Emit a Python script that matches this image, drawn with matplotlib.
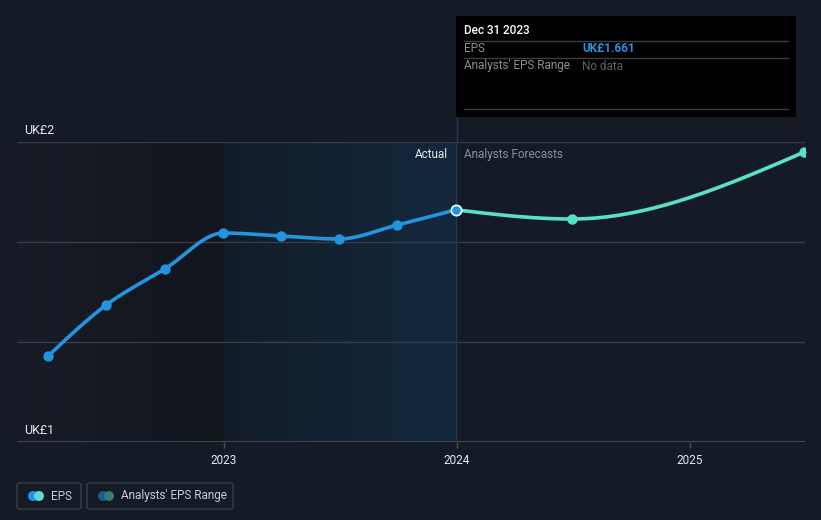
import numpy as np
import pandas as pd
import matplotlib
matplotlib.use("Agg")
import matplotlib.pyplot as plt
import matplotlib.dates as mdates
from matplotlib.patches import FancyBboxPatch, Rectangle, Ellipse
from matplotlib.colors import LinearSegmentedColormap

plt.rcParams["font.family"] = ["Roboto", "DejaVu Sans"]

# data
actual_dates = ["2022-03-31", "2022-06-30", "2022-09-30", "2022-12-31",
                "2023-03-31", "2023-06-30", "2023-09-30", "2023-12-31"]
actual_eps = [0.93, 1.185, 1.365, 1.545, 1.53, 1.515, 1.585, 1.661]
forecast_dates = ["2023-12-31", "2024-06-30", "2025-06-30"]
forecast_eps = [1.661, 1.615, 1.95]
year_ticks = ["2023-01-01", "2024-01-01", "2025-01-01"]
year_labels = ["2023", "2024", "2025"]

BG = "#151b26"
GRID = "#363c46"
BLUE = "#2394df"
TEAL = "#58e0c8"
W, H = 821, 520


def px(x, y):
    """pixel coords (top-left origin) -> figure fraction"""
    return x / W, 1 - y / H


def monotone(xs, ys, n=40):
    # d3 curveMonotoneX style interpolation
    xs = np.asarray(xs, float)
    ys = np.asarray(ys, float)
    h = np.diff(xs)
    s = np.diff(ys) / h
    t = np.zeros(len(xs))
    for i in range(1, len(xs) - 1):
        p = (s[i - 1] * h[i] + s[i] * h[i - 1]) / (h[i - 1] + h[i])
        t[i] = (np.sign(s[i - 1]) + np.sign(s[i])) * min(abs(s[i - 1]), abs(s[i]), 0.5 * abs(p))
    if len(xs) > 2:
        t[0] = (3 * s[0] - t[1]) / 2
        t[-1] = (3 * s[-1] - t[-2]) / 2
    else:
        t[:] = s[0]
    ox, oy = [], []
    for i in range(len(xs) - 1):
        u = np.linspace(0, 1, n)
        h00 = 2 * u**3 - 3 * u**2 + 1
        h10 = u**3 - 2 * u**2 + u
        h01 = -2 * u**3 + 3 * u**2
        h11 = u**3 - u**2
        ox.append(xs[i] + u * h[i])
        oy.append(h00 * ys[i] + h10 * h[i] * t[i] + h01 * ys[i + 1] + h11 * h[i] * t[i + 1])
    return np.concatenate(ox), np.concatenate(oy)


ax_x = mdates.date2num(pd.to_datetime(actual_dates))
fc_x = mdates.date2num(pd.to_datetime(forecast_dates))
tick_x = mdates.date2num(pd.to_datetime(year_ticks))

fig = plt.figure(figsize=(W / 100, H / 100), dpi=100, facecolor=BG)
ax = fig.add_axes([17 / W, 78 / H, 788 / W, 300 / H])
ax.set_facecolor(BG)

x0 = mdates.date2num(pd.Timestamp("2022-02-10"))
x1 = mdates.date2num(pd.Timestamp("2025-07-01"))

# shaded past / actual regions
grad = np.linspace(0, 1, 256).reshape(1, -1)
cm_past = LinearSegmentedColormap.from_list("past", ["#171c26", "#11151c"])
cm_act = LinearSegmentedColormap.from_list("act", ["#131d29", "#13283d"])
ax.imshow(grad, cmap=cm_past, extent=[x0, tick_x[0], 0.5, 2.0], aspect="auto", zorder=0)
ax.imshow(grad, cmap=cm_act, extent=[tick_x[0], ax_x[-1], 0.5, 2.0], aspect="auto", zorder=0)
ax.set_xlim(x0, x1)
ax.set_ylim(0.5, 2.0)

for v in [1.0, 1.5, 2.0]:
    ax.axhline(v, color=GRID, lw=1, zorder=1)
ax.axhline(0.5, color="#4a505a", lw=1.2, zorder=1)

for sp in ax.spines.values():
    sp.set_visible(False)
ax.set_xticks(tick_x)
ax.set_xticklabels(year_labels)
ax.set_yticks([])
ax.tick_params(axis="x", colors="#4a505a", length=4, width=1, pad=5,
               labelcolor="#e6e8eb", labelsize=8.5)

# vertical "today" line
ax.plot([ax_x[-1], ax_x[-1]], [0.5, 2.0], color="#1f3a52", lw=1, zorder=2)
fig.add_artist(plt.Line2D([457 / W, 457 / W], [1 - 142 / H, 1 - 117 / H], color="#1f3a52", lw=1))

# lines
cx, cy = monotone(ax_x, actual_eps)
ax.plot(cx, cy, color=BLUE, lw=2.6, zorder=4, solid_capstyle="round")
ax.scatter(ax_x[:-1], actual_eps[:-1], s=42, color=BLUE, zorder=5, clip_on=False)
fx, fy = monotone(fc_x, forecast_eps)
ax.plot(fx, fy, color=TEAL, lw=2.6, zorder=4, clip_on=False)
ax.scatter(fc_x[1:], forecast_eps[1:], s=42, color=TEAL, zorder=5, clip_on=True)
ax.scatter([ax_x[-1]], [actual_eps[-1]], s=55, color=BLUE, edgecolor="white", linewidth=1.2, zorder=6)

# y labels
fig.text(*px(24, 130), "UK£2", color="#e6e8eb", fontsize=9, va="center", ha="left")
fig.text(*px(24, 430), "UK£1", color="#e6e8eb", fontsize=9, va="center", ha="left")
fig.text(*px(448, 154), "Actual", color="#e6e8eb", fontsize=8.5, va="center", ha="right")
fig.text(*px(464, 154), "Analysts Forecasts", color="#8a8f97", fontsize=8.5, va="center", ha="left")

# tooltip
fig.add_artist(Rectangle(px(456, 117), 340 / W, 101 / H, facecolor="black", edgecolor="none"))
for yy in [41, 58, 109]:
    fig.add_artist(plt.Line2D([464 / W, 788 / W], [1 - yy / H] * 2, color="#3a3d42", lw=1))
fig.text(*px(464, 31), "Dec 31 2023", color="white", fontsize=8.5, fontweight="medium", va="center")
fig.text(*px(464, 49), "EPS", color="#8a8f97", fontsize=8.5, va="center")
fig.text(*px(582, 49), "UK£1.661", color=BLUE, fontsize=8.5, fontweight="bold", va="center")
fig.text(*px(464, 66), "Analysts' EPS Range", color="#8a8f97", fontsize=8.5, va="center")
fig.text(*px(582, 66), "No data", color="#5d6168", fontsize=8.5, va="center")

# legend
for (lx, lw_) in [(17, 64), (87, 146)]:
    fig.add_artist(FancyBboxPatch(px(lx, 509), lw_ / W, 26 / H, boxstyle="round,pad=0,rounding_size=0.004",
                                  facecolor="none", edgecolor="#3a3f48", lw=1))
for (lx, col) in [(33, BLUE), (39, TEAL), (103, "#1f5a8a"), (109, "#2f7d74")]:
    fig.add_artist(Ellipse(px(lx, 496), 10 / W, 10 / H, facecolor=col, edgecolor="none"))
fig.text(*px(51, 496), "EPS", color="#c9ccd1", fontsize=8.5, va="center")
fig.text(*px(121, 496), "Analysts' EPS Range", color="#c9ccd1", fontsize=8.5, va="center")

fig.savefig("out.png", dpi=100, facecolor=BG)
